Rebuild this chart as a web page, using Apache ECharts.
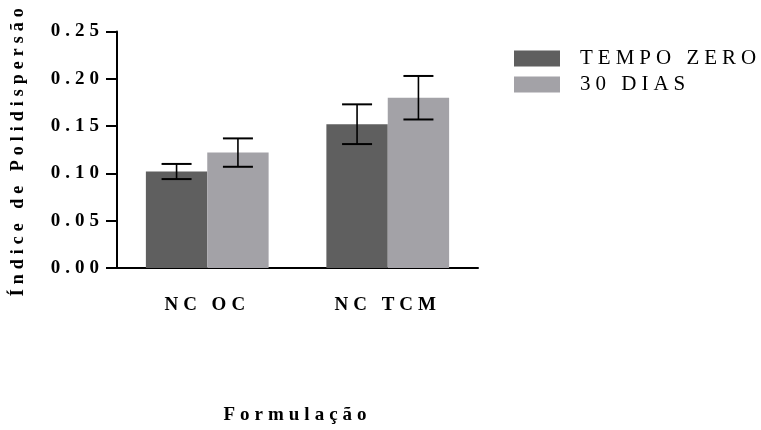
<!DOCTYPE html>
<html>
<head>
<meta charset="utf-8">
<script src="https://cdn.jsdelivr.net/npm/echarts@6/dist/echarts.min.js"></script>
<style>
  html, body { margin: 0; padding: 0; background: #ffffff; }
  #chart { width: 761px; height: 430px; }
</style>
</head>
<body>
<div id="chart"></div>
<script>
// Formulations on the x axis
const categories = ['NC OC', 'NC TCM'];
// Series names shown in the legend
const seriesNames = ['TEMPO ZERO', '30 DIAS'];
// Mean polydispersity index per formulation
const tempoZero = [0.102, 0.152];
const trintaDias = [0.122, 0.180];
// Standard deviation per formulation
const tempoZeroSd = [0.008, 0.021];
const trintaDiasSd = [0.015, 0.023];
// Value axis ticks
const yTicks = { min: 0, max: 0.25, step: 0.05 };

const colors = ['#5f5f5f', '#a3a2a7'];
const serif = "Liberation Serif";
const gapRatio = 0.32;

// Spread the glyphs of every drawn label a little, as in typeset figure text
(function () {
  const proto = CanvasRenderingContext2D.prototype;
  const fill = proto.fillText;
  proto.fillText = function () {
    if ('letterSpacing' in this) this.letterSpacing = '5px';
    const r = fill.apply(this, arguments);
    if ('letterSpacing' in this) this.letterSpacing = '0px';
    return r;
  };
})();

function errorSeries(means, sds, side) {
  return {
    type: 'custom',
    z: 10,
    silent: true,
    data: means.map((m, i) => [i, m, sds[i]]),
    renderItem: function (params, api) {
      const idx = api.value(0);
      const mean = api.value(1);
      const sd = api.value(2);
      const band = api.size([1, 0])[0];
      const barW = band * (1 - gapRatio) / 2;
      const center = api.coord([idx, mean]);
      const x = center[0] + side * barW / 2;
      const top = api.coord([idx, mean + sd])[1];
      const bot = api.coord([idx, mean - sd])[1];
      const half = 15;
      return {
        type: 'group',
        children: [
          { type: 'line', shape: { x1: x, y1: top, x2: x, y2: bot }, style: { stroke: '#000', lineWidth: 1.6 } },
          { type: 'line', shape: { x1: x - half, y1: top, x2: x + half, y2: top }, style: { stroke: '#000', lineWidth: 2 } },
          { type: 'line', shape: { x1: x - half, y1: bot, x2: x + half, y2: bot }, style: { stroke: '#000', lineWidth: 2 } }
        ]
      };
    }
  };
}

const chart = echarts.init(document.getElementById('chart'), null, { renderer: 'canvas' });
chart.setOption({
  animation: false,
  color: colors,
  textStyle: { fontFamily: serif },
  grid: { left: 117, right: 283, top: 31.5, bottom: 161, containLabel: false },
  legend: {
    data: seriesNames,
    orient: 'vertical',
    left: 509,
    top: 43,
    itemWidth: 46,
    itemHeight: 16,
    itemGap: 5,
    icon: 'rect',
    textStyle: { fontFamily: serif, fontSize: 21, color: '#000', padding: [3, 0, 0, 15] }
  },
  xAxis: {
    type: 'category',
    data: categories,
    name: 'Formulação',
    nameLocation: 'middle',
    nameGap: 138,
    nameTextStyle: { fontFamily: serif, fontSize: 19, fontWeight: 'bold', color: '#000' },
    axisLine: { lineStyle: { color: '#000', width: 2 } },
    axisTick: { show: false },
    axisLabel: { margin: 28, fontFamily: serif, fontSize: 19, fontWeight: 'bold', color: '#000' }
  },
  yAxis: {
    type: 'value',
    min: yTicks.min,
    max: yTicks.max,
    interval: yTicks.step,
    name: 'Índice de Polidispersão',
    nameLocation: 'middle',
    nameGap: 90,
    nameTextStyle: { fontFamily: serif, fontSize: 18, fontWeight: 'bold', color: '#000' },
    axisLine: { show: true, lineStyle: { color: '#000', width: 2 } },
    axisTick: { show: true, length: 11, lineStyle: { color: '#000', width: 2 } },
    splitLine: { show: false },
    axisLabel: {
      margin: 13,
      fontFamily: serif, fontSize: 19, fontWeight: 'bold', color: '#000',
      formatter: v => v.toFixed(2)
    }
  },
  series: [
    { name: seriesNames[0], type: 'bar', data: tempoZero, barGap: '0%', barCategoryGap: (gapRatio * 100) + '%' },
    { name: seriesNames[1], type: 'bar', data: trintaDias, barGap: '0%', barCategoryGap: (gapRatio * 100) + '%' },
    errorSeries(tempoZero, tempoZeroSd, -1),
    errorSeries(trintaDias, trintaDiasSd, 1)
  ]
});
</script>
</body>
</html>
